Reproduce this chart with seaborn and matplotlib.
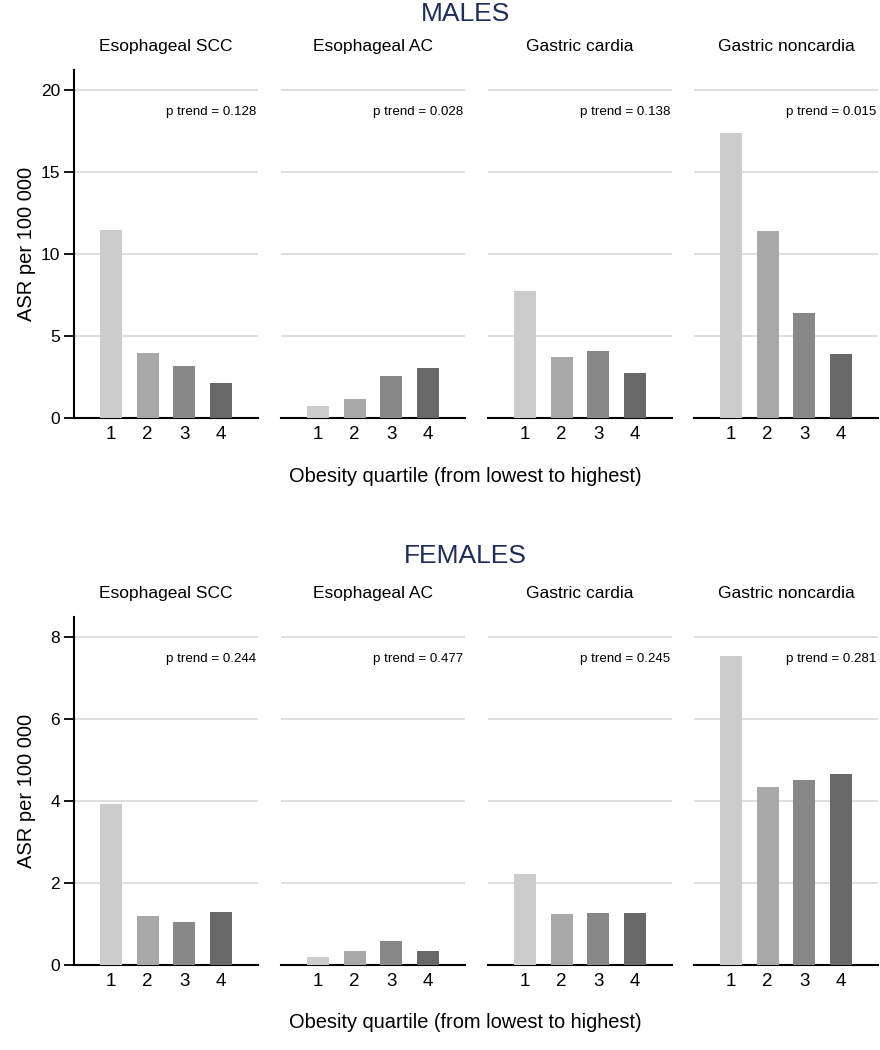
import matplotlib
matplotlib.use("Agg")
import matplotlib.pyplot as plt
import seaborn as sns
import pandas as pd

sns.set_theme(style="white")
plt.rcParams["font.family"] = ["Liberation Sans", "DejaVu Sans"]

sites = ["Esophageal SCC", "Esophageal AC", "Gastric cardia", "Gastric noncardia"]
quartiles = ["1", "2", "3", "4"]

males_scc = [11.46, 3.94, 3.15, 2.15]
males_ac = [0.75, 1.16, 2.58, 3.03]
males_cardia = [7.76, 3.72, 4.09, 2.76]
males_noncardia = [17.36, 11.38, 6.42, 3.92]
males_p = ["0.128", "0.028", "0.138", "0.015"]

females_scc = [3.92, 1.19, 1.04, 1.28]
females_ac = [0.20, 0.33, 0.59, 0.33]
females_cardia = [2.21, 1.24, 1.27, 1.27]
females_noncardia = [7.52, 4.33, 4.51, 4.66]
females_p = ["0.244", "0.477", "0.245", "0.281"]

bar_colors = ["#cccccc", "#a8a8a8", "#888888", "#686868"]
title_color = "#1f2d5a"

fig = plt.figure(figsize=(8.8, 10.5), dpi=100)
W, H = 880, 1050
lefts = [74, 281, 488, 694]
pw = 184


def draw_group(values, pvals, top_px, bottom_px, ymax, yticks, title, title_y, xlabel_y):
    for i, (site, vals, p) in enumerate(zip(sites, values, pvals)):
        ax = fig.add_axes([lefts[i] / W, 1 - bottom_px / H, pw / W, (bottom_px - top_px) / H])
        df = pd.DataFrame({"quartile": quartiles, "asr": vals})
        sns.barplot(data=df, x="quartile", y="asr", hue="quartile", palette=bar_colors,
                    legend=False, width=0.6, ax=ax, zorder=3, linewidth=0)
        ax.set_xlim(-1, 4)
        ax.set_ylim(0, ymax)
        ax.set_yticks(yticks)
        ax.yaxis.grid(True, color="#dcdcdc", linewidth=1.3, zorder=0)
        ax.set_axisbelow(True)
        ax.set_xlabel("")
        ax.set_ylabel("")
        for s in ["top", "right"]:
            ax.spines[s].set_visible(False)
        ax.spines["bottom"].set_color("black")
        ax.spines["bottom"].set_linewidth(1.5)
        ax.tick_params(axis="x", length=0, labelsize=13.5, pad=6, colors="black")
        if i == 0:
            ax.spines["left"].set_color("black")
            ax.spines["left"].set_linewidth(1.5)
            ax.tick_params(axis="y", left=True, length=7, width=1.3, labelsize=12.5,
                           colors="black", pad=3)
            ax.set_ylabel("ASR per 100 000", fontsize=14.5, color="black")
            ax.yaxis.set_label_coords((36 - 74) / pw, 0.5)
        else:
            ax.spines["left"].set_visible(False)
            ax.tick_params(axis="y", left=False, labelleft=False)
        ax.set_title(site, fontsize=12.5, color="black", pad=14)
        ax.text(0.99, 0.88, f"p trend = {p}", transform=ax.transAxes, ha="right",
                va="center", fontsize=9.6, color="black")
    fig.text(465 / W, 1 - title_y / H, title, ha="center", va="center",
             fontsize=19, color=title_color)
    fig.text(465 / W, 1 - xlabel_y / H, "Obesity quartile (from lowest to highest)",
             ha="center", va="center", fontsize=14.4, color="black")


draw_group([males_scc, males_ac, males_cardia, males_noncardia], males_p,
           70, 418, 21.2, [0, 5, 10, 15, 20], "MALES", 14, 477)
draw_group([females_scc, females_ac, females_cardia, females_noncardia], females_p,
           617, 965, 8.48, [0, 2, 4, 6, 8], "FEMALES", 556, 1022)

fig.savefig("out.png", dpi=100, facecolor="white")
